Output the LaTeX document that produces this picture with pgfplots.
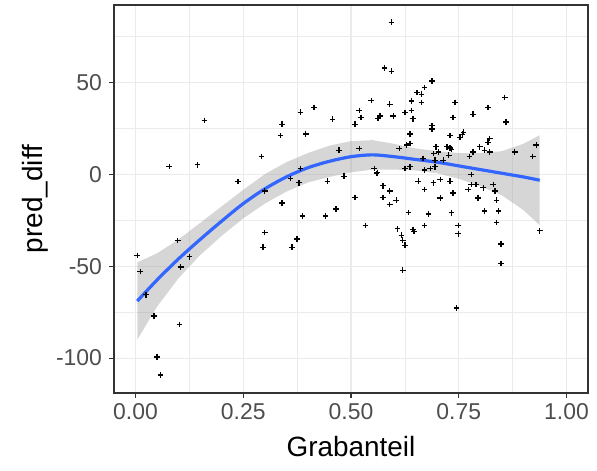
\documentclass[border=0pt]{standalone}
\usepackage{pgfplots}
\pgfplotsset{compat=1.18}
\usepackage{fontspec}
\setmainfont{Liberation Sans}
\definecolor{grey92}{HTML}{EBEBEB}
\definecolor{grey20}{HTML}{333333}
\definecolor{grey30}{HTML}{4D4D4D}
\definecolor{smoothblue}{HTML}{3366FF}
\definecolor{band}{HTML}{999999}
\begin{document}
\begin{tikzpicture}
\begin{axis}[
  scale only axis, width=474bp, height=388bp,
  xmin=-0.05, xmax=1.05, ymin=-119, ymax=92,
  xtick={0,0.25,0.5,0.75,1}, xticklabels={0.00,0.25,0.50,0.75,1.00},
  ytick={-100,-50,0,50}, yticklabels={-100,-50,0,50},
  minor xtick={0.125,0.375,0.625,0.875}, minor ytick={-75,-25,25,75},
  grid=both,
  major grid style={draw=grey92, line width=1.1bp},
  minor grid style={draw=grey92, line width=0.55bp},
  axis line style={draw=grey20, line width=1.1bp},
  xtick pos=bottom, ytick pos=left,
  tick align=outside, major tick length=4.5bp, minor tick length=0bp,
  major tick style={draw=grey20, line width=1.1bp},
  tick label style={font=\fontsize{23}{25}\selectfont, text=grey30},
  xticklabel style={yshift=-2bp},
  yticklabel style={xshift=-4bp},
  label style={font=\fontsize{28}{30}\selectfont, text=black},
  xlabel={Grabanteil}, ylabel={pred\_diff},
  xlabel style={at={(axis description cs:0.5,-0.139)}, anchor=center},
  ylabel style={at={(axis description cs:-0.1667,0.5)}, anchor=center},
  clip=true,
]
\addplot[only marks, mark=+, mark size=2.8bp, mark options={line width=1.3bp, draw=black}] coordinates {
(0.004,-44.2) (0.011,-52.9) (0.024,-65.6) (0.043,-77.2) (0.050,-99.5) (0.058,-109.2)
(0.078,4.2) (0.098,-36.1) (0.102,-81.7) (0.105,-50.4) (0.125,-44.9) (0.144,5.1)
(0.160,29.2) (0.238,-4.0) (0.292,9.6) (0.296,-39.7) (0.300,-31.7) (0.300,-9.2)
(0.336,21.0) (0.340,27.2) (0.340,-15.6) (0.360,-2.4) (0.363,-39.7) (0.375,-35.2)
(0.379,-4.7) (0.383,33.7) (0.383,3.1) (0.387,-22.7) (0.395,21.9) (0.414,36.2)
(0.441,-22.7) (0.445,-3.8) (0.457,29.9) (0.465,-19.0) (0.472,13.0) (0.484,-1.1)
(0.509,27.2) (0.509,-12.7) (0.519,34.6) (0.519,13.9) (0.523,30.8) (0.534,-27.9)
(0.547,40.0) (0.554,3.1) (0.559,0.4) (0.561,0.8) (0.563,30.3) (0.567,31.7)
(0.574,-6.3) (0.574,-12.7) (0.578,57.8) (0.590,38.0) (0.590,-9.2) (0.590,-16.5)
(0.594,82.6) (0.594,56.0) (0.598,31.7) (0.605,-14.2) (0.608,-29.7) (0.612,13.9)
(0.617,-33.2) (0.620,-35.9) (0.620,-52.2) (0.625,33.5) (0.625,3.1) (0.625,-38.6)
(0.629,15.8) (0.633,-20.8) (0.637,21.9) (0.637,16.7) (0.637,4.0) (0.640,39.8)
(0.640,34.6) (0.644,30.1) (0.644,-30.1) (0.646,-31.2) (0.653,44.4) (0.656,-3.8)
(0.664,43.5) (0.664,39.0) (0.667,8.5) (0.671,47.1) (0.671,2.2) (0.671,-8.3)
(0.671,-27.9) (0.680,-21.7) (0.684,3.1) (0.688,50.7) (0.688,26.3) (0.688,24.5)
(0.691,-4.7) (0.692,11.2) (0.695,7.6) (0.695,4.0) (0.697,14.9) (0.703,12.1)
(0.707,-2.9) (0.707,-12.9) (0.714,7.6) (0.723,14.9) (0.727,10.3) (0.730,21.0)
(0.730,14.3) (0.730,-3.8) (0.733,13.6) (0.733,-21.0) (0.737,30.8) (0.737,-10.2)
(0.741,39.0) (0.745,-72.8) (0.749,-27.9) (0.749,-32.4) (0.753,20.1) (0.758,21.7)
(0.761,22.8) (0.772,-8.3) (0.775,9.6) (0.779,-0.2) (0.779,-5.6) (0.783,32.6)
(0.783,12.1) (0.790,-5.6) (0.795,-12.9) (0.799,14.9) (0.807,-7.4) (0.810,13.0)
(0.810,-20.1) (0.818,36.2) (0.818,17.4) (0.822,19.4) (0.822,12.1) (0.830,-5.6)
(0.834,-9.2) (0.838,-14.2) (0.838,-26.3) (0.842,-20.1) (0.848,-37.9) (0.848,-48.6)
(0.857,41.7) (0.860,28.3) (0.880,12.1) (0.922,9.6) (0.930,15.8) (0.938,-30.8)
};
\addplot[draw=none, fill=band, fill opacity=0.4] coordinates {
(0.004,-48) (0.05,-43) (0.1,-35.5) (0.15,-26.5) (0.2,-17.5) (0.25,-8.5) (0.3,0) (0.35,6.5)
(0.4,11.5) (0.45,15.5) (0.5,18) (0.55,18.5) (0.6,16.5) (0.65,14) (0.7,12.5) (0.75,11.5)
(0.8,11.5) (0.85,12.5) (0.9,16.5) (0.938,21.2)
(0.938,-27.8) (0.9,-19.5) (0.85,-11.5) (0.8,-6.5) (0.75,-2.5) (0.7,0.5) (0.65,2)
(0.6,2.5) (0.55,2.5) (0.5,1) (0.45,-1.5) (0.4,-4.5) (0.35,-9.5) (0.3,-16) (0.25,-24)
(0.2,-33.5) (0.15,-44) (0.1,-56.5) (0.05,-72) (0.004,-90)
} -- cycle;
\addplot[smoothblue, line width=3.2bp, smooth] coordinates {
(0.004,-69) (0.05,-57.5) (0.1,-46) (0.15,-35.5) (0.2,-25.5) (0.25,-16) (0.3,-8) (0.35,-1.5)
(0.4,3.5) (0.45,7) (0.5,9.5) (0.55,10.5) (0.6,9.5) (0.65,8) (0.7,6.5) (0.75,4.5)
(0.8,2.5) (0.85,0.5) (0.9,-1.5) (0.938,-3.3)
};
\end{axis}
\pgfresetboundingbox
\path[use as bounding box] ([shift={(-114bp,-78bp)}]current axis.south west) rectangle ([shift={(9bp,5bp)}]current axis.north east);
\end{tikzpicture}
\end{document}
